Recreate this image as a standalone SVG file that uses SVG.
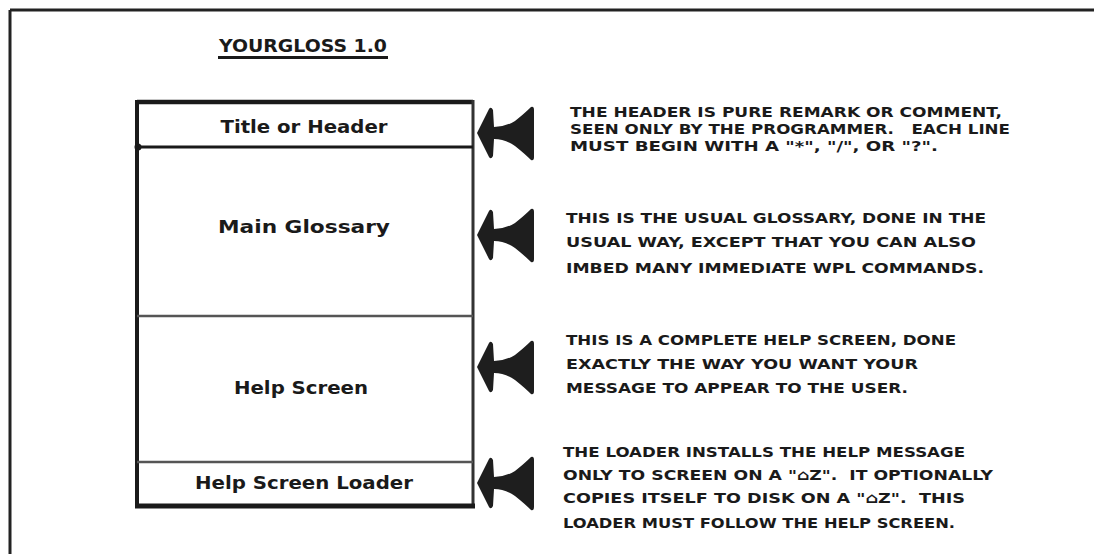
<svg xmlns="http://www.w3.org/2000/svg" width="1094" height="554" viewBox="0 0 1094 554">
<style>
.lbl{font-family:"DejaVu Sans","Liberation Sans",sans-serif;font-weight:bold;font-size:18px;fill:#1a1a1a;text-anchor:middle}
.note{font-family:"DejaVu Sans","Liberation Sans",sans-serif;font-weight:bold;font-size:14.5px;fill:#1a1a1a}
.frame{stroke:#222;stroke-width:3;fill:none}
.div{stroke:#555;stroke-width:2.5}
.arr{fill:#1e1e1e}
</style>
<defs>
<path id="arrow" d="M0,0 L12,-24 Q14,-27 16,-23 L17,-6 Q28,-6 38,-12 Q48,-20 54,-26 Q57,-27 57,-23 L57,24 Q57,28 54,27 Q48,21 38,13 Q28,6 17,6 L16,23 Q14,27 12,24 Z"/>
</defs>
<g id="frame">
<line x1="10" y1="10" x2="1094" y2="10" class="frame"/>
<line x1="10" y1="10" x2="10" y2="554" class="frame"/>
</g>
<g id="title">
<text x="303" y="52" font-family="DejaVu Sans, sans-serif" font-weight="bold" font-size="18" fill="#1a1a1a" text-anchor="middle" textLength="168" lengthAdjust="spacingAndGlyphs">YOURGLOSS 1.0</text>
<line x1="218" y1="57.5" x2="388" y2="57.5" stroke="#1a1a1a" stroke-width="3"/>
</g>
<g id="box">
<line x1="137" y1="102" x2="473" y2="102" stroke="#1a1a1a" stroke-width="4.5"/>
<line x1="137" y1="100" x2="137" y2="508" stroke="#1a1a1a" stroke-width="4"/>
<line x1="473" y1="100" x2="473" y2="508" stroke="#333" stroke-width="3"/>
<line x1="135" y1="506" x2="475" y2="506" stroke="#1a1a1a" stroke-width="5"/>
</g>
<g id="node-title">
<line x1="137" y1="147" x2="473" y2="147" stroke="#1a1a1a" stroke-width="3"/>
<circle cx="138" cy="147" r="3.5" fill="#1a1a1a"/>
<text class="lbl" x="304" y="133" textLength="167" lengthAdjust="spacingAndGlyphs">Title or Header</text>
</g>
<g id="node-main">
<text class="lbl" x="304" y="233" textLength="172" lengthAdjust="spacingAndGlyphs">Main Glossary</text>
</g>
<g id="node-help">
<line x1="137" y1="316" x2="473" y2="316" class="div"/>
<text class="lbl" x="301" y="394" textLength="134" lengthAdjust="spacingAndGlyphs">Help Screen</text>
</g>
<g id="node-loader">
<line x1="137" y1="462" x2="473" y2="462" class="div"/>
<text class="lbl" x="304" y="489" textLength="218" lengthAdjust="spacingAndGlyphs">Help Screen Loader</text>
</g>
<g id="connectors">
<use href="#arrow" x="477" y="133" class="arr"/>
<use href="#arrow" x="477" y="235" class="arr"/>
<use href="#arrow" x="477" y="367" class="arr"/>
<use href="#arrow" x="477" y="483" class="arr"/>
</g>
<g id="note-header">
<text class="note" x="570" y="117" textLength="432" lengthAdjust="spacingAndGlyphs">THE HEADER IS PURE REMARK OR COMMENT,</text>
<text class="note" x="570" y="134" textLength="440" lengthAdjust="spacingAndGlyphs" xml:space="preserve">SEEN ONLY BY THE PROGRAMMER.   EACH LINE</text>
<text class="note" x="570" y="151" textLength="368" lengthAdjust="spacingAndGlyphs">MUST BEGIN WITH A "*", "/", OR "?".</text>
</g>
<g id="note-main">
<text class="note" x="566" y="223" textLength="420" lengthAdjust="spacingAndGlyphs">THIS IS THE USUAL GLOSSARY, DONE IN THE</text>
<text class="note" x="566" y="247" textLength="410" lengthAdjust="spacingAndGlyphs">USUAL WAY, EXCEPT THAT YOU CAN ALSO</text>
<text class="note" x="566" y="273" textLength="418" lengthAdjust="spacingAndGlyphs">IMBED MANY IMMEDIATE WPL COMMANDS.</text>
</g>
<g id="note-help">
<text class="note" x="566" y="345" textLength="390" lengthAdjust="spacingAndGlyphs">THIS IS A COMPLETE HELP SCREEN, DONE</text>
<text class="note" x="566" y="369" textLength="352" lengthAdjust="spacingAndGlyphs">EXACTLY THE WAY YOU WANT YOUR</text>
<text class="note" x="566" y="393" textLength="342" lengthAdjust="spacingAndGlyphs">MESSAGE TO APPEAR TO THE USER.</text>
</g>
<g id="note-loader">
<text class="note" x="563" y="457" textLength="402" lengthAdjust="spacingAndGlyphs">THE LOADER INSTALLS THE HELP MESSAGE</text>
<text class="note" x="563" y="480" textLength="430" lengthAdjust="spacingAndGlyphs" xml:space="preserve">ONLY TO SCREEN ON A "⌂Z".  IT OPTIONALLY</text>
<text class="note" x="563" y="503" textLength="402" lengthAdjust="spacingAndGlyphs" xml:space="preserve">COPIES ITSELF TO DISK ON A "⌂Z".  THIS</text>
<text class="note" x="563" y="528" textLength="392" lengthAdjust="spacingAndGlyphs">LOADER MUST FOLLOW THE HELP SCREEN.</text>
</g>
</svg>
